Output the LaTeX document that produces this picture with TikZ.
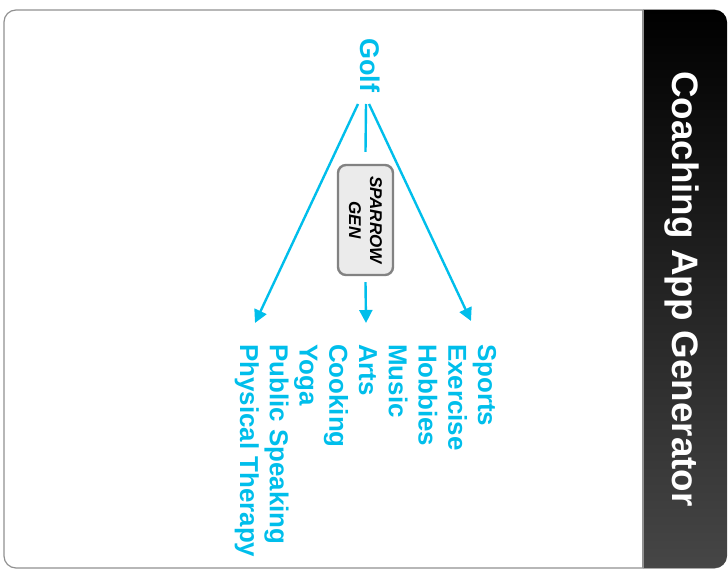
\documentclass[tikz,border=0pt]{standalone}
\usepackage{fontspec}
\setmainfont{Liberation Sans}
\usetikzlibrary{arrows.meta}
\definecolor{cyanx}{RGB}{0,190,235}
\definecolor{framegray}{RGB}{145,145,145}
\definecolor{panelbottom}{RGB}{70,70,70}
\definecolor{boxfill}{RGB}{235,235,235}
\definecolor{boxdraw}{RGB}{130,130,130}
\tikzset{
  item/.style={rotate=-90, anchor=base west, inner sep=0pt, text=cyanx, font=\fontsize{25.9}{29}\selectfont\bfseries},
  conn/.style={draw=cyanx, line width=2.4pt},
  arr/.style={conn, -{Triangle[length=13pt,width=13pt]}},
  genbox/.style={rotate=-90, draw=boxdraw, fill=boxfill, line width=2.4pt, rounded corners=8pt,
     minimum width=110pt, minimum height=55pt, align=center, inner sep=0pt,
     font=\fontsize{17}{21}\selectfont\bfseries\itshape}
}
\begin{document}
\begin{tikzpicture}[x=1pt,y=-1pt]
\useasboundingbox (0,0) rectangle (728,572);
% outer frame
\draw[framegray, line width=1.2pt, rounded corners=12pt] (4,10) rectangle (726,568);
% dark panel
\shade[top color=black, bottom color=panelbottom]
  (643,10) [rounded corners=12pt] -- (727,10) -- (727,568) [sharp corners] -- (643,568) -- cycle;
\draw[framegray, line width=1.2pt] (643,10) -- (643,568);
\node[rotate=-90, anchor=base west, inner sep=0pt, text=white, font=\fontsize{36.8}{40}\selectfont\bfseries]
  (title) at (672,71) {Coaching App Generator};
% Golf
\node[item, font=\fontsize{27}{30}\selectfont\bfseries] (golf) at (360,38) {Golf};
% items
\node[item] (i1) at (478,344) {Sports};
\node[item] (i2) at (448.25,344) {Exercise};
\node[item] (i3) at (418.5,344) {Hobbies};
\node[item] (i4) at (388.75,344) {Music};
\node[item] (i5) at (359,344) {Arts};
\node[item] (i6) at (329.25,344) {Cooking};
\node[item] (i7) at (299.5,344) {Yoga};
\node[item] (i8) at (269.75,344) {Public Speaking};
\node[item] (i9) at (240,344) {Physical Therapy};
% generator box
\node[genbox] (sg) at (365.5,220) {SPARROW\\GEN};
% connectors
\coordinate (g1) at (358,104);
\coordinate (g2) at (366,104);
\coordinate (g3) at (369,104);
\coordinate (a1) at (255,323);
\coordinate (a2) at (366,323);
\coordinate (a3) at (471,321);
\draw[arr] (g1) -- (a1);
\draw[arr] (g3) -- (a3);
\draw[conn] (g2) -- ([yshift=12pt]sg.west);
\draw[arr] ([yshift=-6pt]sg.east) -- (a2);
\end{tikzpicture}
\end{document}
